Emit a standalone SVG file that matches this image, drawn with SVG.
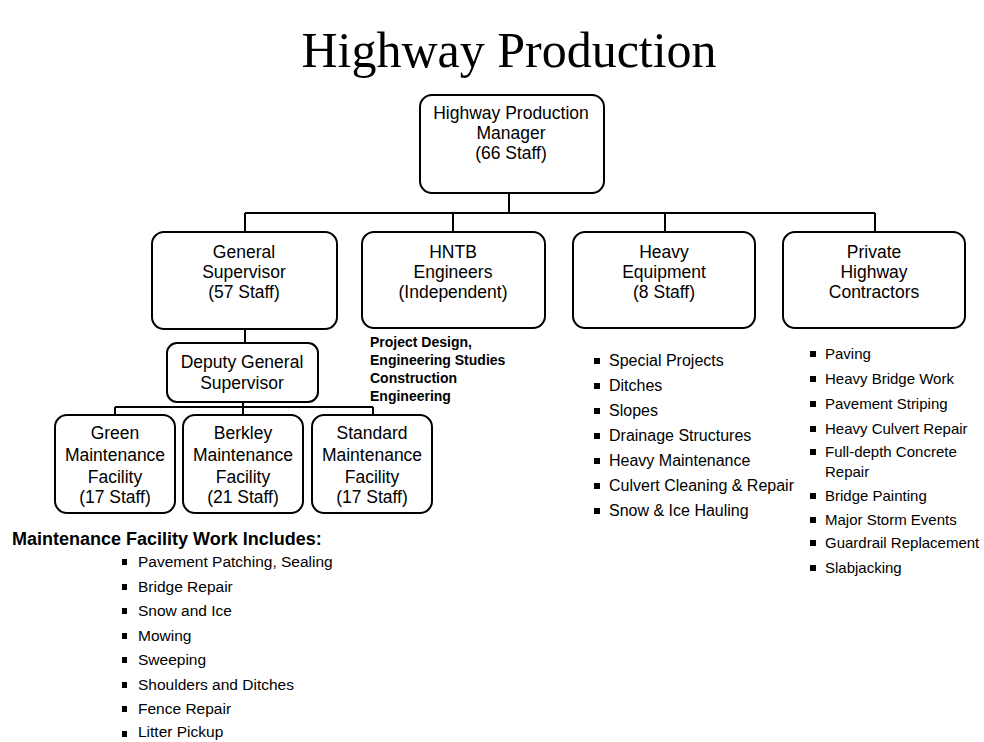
<svg xmlns="http://www.w3.org/2000/svg" width="984" height="742" viewBox="0 0 984 742">
<style>
.box{fill:#fff;stroke:#000;stroke-width:2}
.c{fill:none;stroke:#000;stroke-width:2}
.t{font-family:"Liberation Sans",Arial,sans-serif;font-size:17.5px;fill:#000;text-anchor:middle}
.l{font-family:"Liberation Sans",Arial,sans-serif;font-size:16px;fill:#000}
.b{fill:#000}
</style>
<rect width="984" height="742" fill="#fff"/>
<text x="509" y="67" style="font-family:'Liberation Serif','Times New Roman',serif;font-size:50px;fill:#000" text-anchor="middle">Highway Production</text>
<g id="connectors">
<path class="c" d="M509 193V213M245 213H875M245 213V232M453 213V232M665 213V232M875 213V232"/>
<path class="c" d="M245 329V343M243 402V407M115 407H373M115 407V415M243 407V415M373 407V415"/>
</g>
<g id="manager"><rect class="box" x="420" y="95" width="184" height="98" rx="12"/>
<text class="t" x="511" y="119">Highway Production</text><text class="t" x="511" y="139">Manager</text><text class="t" x="511" y="159">(66 Staff)</text></g>
<g id="general"><rect class="box" x="152" y="232" width="185" height="97" rx="12"/>
<text class="t" x="244" y="258">General</text><text class="t" x="244" y="278">Supervisor</text><text class="t" x="244" y="298">(57 Staff)</text></g>
<g id="hntb"><rect class="box" x="362" y="232" width="183" height="96" rx="12"/>
<text class="t" x="453" y="258">HNTB</text><text class="t" x="453" y="278">Engineers</text><text class="t" x="453" y="298">(Independent)</text></g>
<g id="heavy"><rect class="box" x="573" y="232" width="182" height="96" rx="12"/>
<text class="t" x="664" y="258">Heavy</text><text class="t" x="664" y="278">Equipment</text><text class="t" x="664" y="298">(8 Staff)</text></g>
<g id="private"><rect class="box" x="783" y="232" width="182" height="96" rx="12"/>
<text class="t" x="874" y="258">Private</text><text class="t" x="874" y="278">Highway</text><text class="t" x="874" y="298">Contractors</text></g>
<g id="deputy"><rect class="box" x="167" y="343" width="151" height="59" rx="10"/>
<text class="t" x="242" y="368">Deputy General</text><text class="t" x="242" y="389">Supervisor</text></g>
<g id="green"><rect class="box" x="55" y="415" width="120" height="98" rx="12"/>
<text class="t" x="115" y="439">Green</text><text class="t" x="115" y="461">Maintenance</text><text class="t" x="115" y="483">Facility</text><text class="t" x="115" y="503">(17 Staff)</text></g>
<g id="berkley"><rect class="box" x="183" y="415" width="120" height="98" rx="12"/>
<text class="t" x="243" y="439">Berkley</text><text class="t" x="243" y="461">Maintenance</text><text class="t" x="243" y="483">Facility</text><text class="t" x="243" y="503">(21 Staff)</text></g>
<g id="standard"><rect class="box" x="312" y="415" width="120" height="98" rx="12"/>
<text class="t" x="372" y="439">Standard</text><text class="t" x="372" y="461">Maintenance</text><text class="t" x="372" y="483">Facility</text><text class="t" x="372" y="503">(17 Staff)</text></g>
<g id="hntb-notes" class="l" style="font-weight:bold;font-size:14px">
<text x="370" y="347">Project Design,</text><text x="370" y="365">Engineering Studies</text><text x="370" y="383">Construction</text><text x="370" y="401">Engineering</text></g>
<g id="heavy-list" class="l">
<g class="b"><rect x="594" y="358" width="6" height="6"/><rect x="594" y="383" width="6" height="6"/><rect x="594" y="408" width="6" height="6"/><rect x="594" y="433" width="6" height="6"/><rect x="594" y="458" width="6" height="6"/><rect x="594" y="483" width="6" height="6"/><rect x="594" y="508" width="6" height="6"/></g>
<text x="609" y="366">Special Projects</text><text x="609" y="391">Ditches</text><text x="609" y="416">Slopes</text><text x="609" y="441">Drainage Structures</text><text x="609" y="466">Heavy Maintenance</text><text x="609" y="491">Culvert Cleaning &amp; Repair</text><text x="609" y="516">Snow &amp; Ice Hauling</text></g>
<g id="private-list" class="l" style="font-size:15px">
<g class="b"><rect x="810" y="351" width="6" height="6"/><rect x="810" y="376" width="6" height="6"/><rect x="810" y="401" width="6" height="6"/><rect x="810" y="426" width="6" height="6"/><rect x="810" y="449" width="6" height="6"/><rect x="810" y="493" width="6" height="6"/><rect x="810" y="517" width="6" height="6"/><rect x="810" y="540" width="6" height="6"/><rect x="810" y="565" width="6" height="6"/></g>
<text x="825" y="359">Paving</text><text x="825" y="384">Heavy Bridge Work</text><text x="825" y="409">Pavement Striping</text><text x="825" y="434">Heavy Culvert Repair</text><text x="825" y="457">Full-depth Concrete</text><text x="825" y="477">Repair</text><text x="825" y="501">Bridge Painting</text><text x="825" y="525">Major Storm Events</text><text x="825" y="548">Guardrail Replacement</text><text x="825" y="573">Slabjacking</text></g>
<g id="maint-list" class="l" style="font-size:15.5px">
<text x="12" y="545" style="font-weight:bold;font-size:18px">Maintenance Facility Work Includes:</text>
<g class="b"><rect x="122" y="559" width="5" height="6"/><rect x="122" y="584" width="5" height="6"/><rect x="122" y="608" width="5" height="6"/><rect x="122" y="633" width="5" height="6"/><rect x="122" y="657" width="5" height="6"/><rect x="122" y="682" width="5" height="6"/><rect x="122" y="706" width="5" height="6"/><rect x="122" y="731" width="5" height="6"/></g>
<text x="138" y="567">Pavement Patching, Sealing</text><text x="138" y="592">Bridge Repair</text><text x="138" y="616">Snow and Ice</text><text x="138" y="641">Mowing</text><text x="138" y="665">Sweeping</text><text x="138" y="690">Shoulders and Ditches</text><text x="138" y="714">Fence Repair</text><text x="138" y="737">Litter Pickup</text></g>
</svg>
